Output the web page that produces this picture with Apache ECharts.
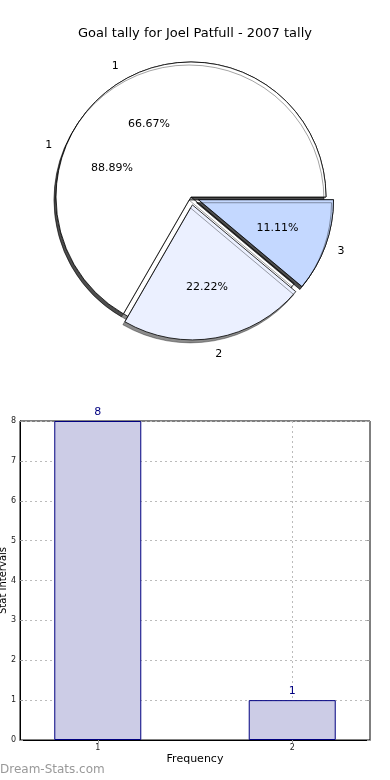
<!DOCTYPE html>
<html><head><meta charset="utf-8">
<script src="https://cdn.jsdelivr.net/npm/echarts@6/dist/echarts.min.js"></script>
<style>html,body{margin:0;padding:0;background:#fff}#c{width:390px;height:780px}</style>
</head><body><div id="c"></div>
<script>
// ---- data ----
const titleText = 'Goal tally for Joel Patfull - 2007 tally';
const pieANames = ['1', '2', '3'];
const pieAValues = [6, 2, 1];
const pieAExplode = [false, true, true];
const pieBNames = ['1', '2'];
const pieBValues = [8, 1];
const pieBExplode = [false, true];
const pieBShowLabel = [true, false]; // second label lies under pie A's "3"
const barX = [1, 2];
const barValues = [8, 1];
const xTickLabels = [1, 2];

// ---- styling ----
const FONT = 'DejaVu Sans';
const pieColorsA = ['#ffffff', '#ebf0ff', '#c4d8ff'];
const pieColorsB = ['#ffffff', '#c4d8ff'];
const CX = 191, CY = 197, R = 135, OFF = 8;

function pct(v, arr) { const s = arr.reduce((a, b) => a + b, 0); return (v / s * 100).toFixed(2) + '%'; }

function pieSeries(names, values, explode, colors, z) {
  return {
    type: 'pie', z: z, center: [CX, CY], radius: [0, R], startAngle: 0, clockwise: false,
    selectedMode: 'multiple', selectedOffset: OFF, silent: true, avoidLabelOverlap: false,
    label: { show: false }, labelLine: { show: false }, emphasis: { disabled: true },
    data: values.map((v, i) => ({
      name: names[i], value: v, selected: explode[i],
      itemStyle: { color: colors[i], borderColor: '#000', borderWidth: 0.8,
        shadowColor: 'rgba(0,0,0,0.45)', shadowBlur: 0, shadowOffsetX: -2, shadowOffsetY: 3 }
    }))
  };
}
function labelSeries(names, values, explode, shown, r0, r1, fmt, z) {
  return {
    type: 'pie', z: z, center: [CX, CY], radius: [r0, r1], startAngle: 0, clockwise: false,
    selectedMode: 'multiple', selectedOffset: OFF, silent: true, avoidLabelOverlap: false,
    labelLine: { show: false }, emphasis: { disabled: true },
    label: { show: true, position: 'inside', color: '#000', fontFamily: FONT, fontSize: 11,
      textBorderWidth: 0, formatter: fmt },
    data: values.map((v, i) => ({ name: names[i], value: v, selected: explode[i],
      label: { show: shown[i] },
      itemStyle: { color: 'rgba(0,0,0,0)', borderWidth: 0 } }))
  };
}
const allA = pieAValues.map(() => true);

const chart = echarts.init(document.getElementById('c'), null, { renderer: 'canvas' });
chart.setOption({
  animation: false,
  title: { text: titleText, left: 'center', top: 22, textStyle: { fontFamily: FONT, fontSize: 13, fontWeight: 'normal', color: '#000' } },
  grid: { left: 20, right: 20, top: 421, bottom: 40, containLabel: false, outerBoundsMode: 'none',
    show: true, borderColor: '#000', borderWidth: 1, backgroundColor: '#fff' },
  xAxis: [{
    type: 'value', min: 0.6, max: 2.4,
    name: 'Frequency', nameLocation: 'middle', nameGap: 14, nameMoveOverlap: false,
    nameTextStyle: { fontFamily: FONT, fontSize: 11, color: '#000' },
    axisLine: { show: true, lineStyle: { color: '#000' } },
    axisTick: { show: true, inside: true, length: 3, customValues: xTickLabels, lineStyle: { color: '#999' } },
    axisLabel: { customValues: xTickLabels, fontFamily: FONT, fontSize: 8, color: '#222', margin: 4 },
    splitLine: { show: true, lineStyle: { type: [2, 3], color: '#bbb', width: 1 } }
  }, {
    type: 'value', min: 0.6, max: 2.4, position: 'top',
    axisLine: { show: false },
    axisTick: { show: true, inside: true, length: 3, customValues: xTickLabels, lineStyle: { color: '#999' } },
    axisLabel: { show: false }, splitLine: { show: false }
  }],
  yAxis: [{
    type: 'value', min: 0, max: 8, interval: 1,
    name: 'Stat Intervals', nameLocation: 'middle', nameGap: 12, nameRotate: 90, nameMoveOverlap: false,
    nameTextStyle: { fontFamily: FONT, fontSize: 10, color: '#000' },
    axisLine: { show: true, lineStyle: { color: '#000' } },
    axisTick: { show: true, inside: true, length: 3, lineStyle: { color: '#999' } },
    axisLabel: { fontFamily: FONT, fontSize: 8, color: '#222', margin: 4 },
    splitLine: { show: true, lineStyle: { type: [2, 3], color: '#bbb', width: 1 } }
  }, {
    type: 'value', min: 0, max: 8, interval: 1, position: 'right',
    axisLine: { show: false },
    axisTick: { show: true, inside: true, length: 3, lineStyle: { color: '#999' } },
    axisLabel: { show: false }, splitLine: { show: false }
  }],
  series: [
    pieSeries(pieBNames, pieBValues, pieBExplode, pieColorsB, 1),
    pieSeries(pieANames, pieAValues, pieAExplode, pieColorsA, 2),
    labelSeries(pieBNames, pieBValues, pieBExplode, pieBShowLabel, 0, R * 1.2, p => pct(p.value, pieBValues), 3),
    labelSeries(pieANames, pieAValues, pieAExplode, allA, 0, R * 1.2, p => pct(p.value, pieAValues), 3),
    labelSeries(pieBNames, pieBValues, pieBExplode, pieBShowLabel, R, R * 1.2, p => p.name, 3),
    labelSeries(pieANames, pieAValues, pieAExplode, allA, R, R * 1.2, p => p.name, 3),
    {
      type: 'bar', xAxisIndex: 0, yAxisIndex: 0, barWidth: 87, silent: true,
      data: barX.map((x, i) => [x, barValues[i]]),
      itemStyle: { color: '#ccccE6', borderColor: '#000080', borderWidth: 1 },
      label: { show: true, position: 'top', distance: 3, color: '#000080', fontFamily: FONT, fontSize: 11,
        formatter: p => String(p.value[1]) }
    }
  ],
  graphic: [{
    type: 'text', left: 0, top: 764,
    style: { text: 'Dream-Stats.com', fill: '#999', font: '12px "DejaVu Sans"' }
  }]
});
</script>
</body></html>
